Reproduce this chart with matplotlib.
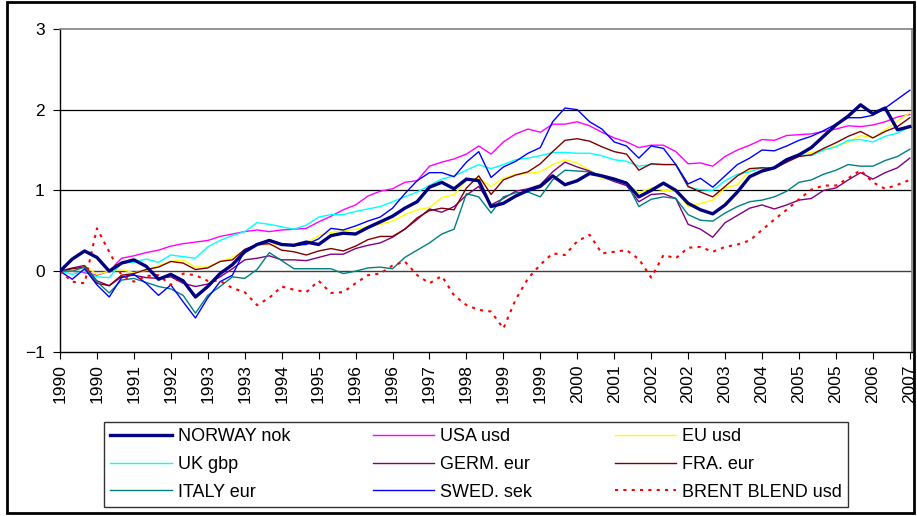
import matplotlib
matplotlib.use("Agg")
import matplotlib.pyplot as plt
from matplotlib.patches import Rectangle

plt.rcParams['font.family'] = ['Liberation Sans', 'DejaVu Sans']

# month index (0 = Jan 1990), one value per quarter
months = list(range(0, 208, 3))

norway = [0.00, 0.15, 0.25, 0.17, 0.00, 0.10, 0.14, 0.06, -0.10, -0.04,
          -0.12, -0.32, -0.19, -0.03, 0.08, 0.24, 0.33, 0.38, 0.33, 0.32,
          0.36, 0.33, 0.44, 0.47, 0.46, 0.54, 0.61, 0.68, 0.78, 0.86,
          1.04, 1.10, 1.02, 1.14, 1.12, 0.80, 0.84, 0.93, 1.00, 1.05,
          1.18, 1.07, 1.12, 1.21, 1.18, 1.14, 1.09, 0.92, 1.00, 1.09,
          1.00, 0.84, 0.76, 0.71, 0.82, 0.98, 1.17, 1.24, 1.28, 1.38,
          1.44, 1.53, 1.67, 1.81, 1.92, 2.06, 1.95, 2.02, 1.75, 1.79]
usa = [0.00, 0.00, -0.02, -0.05, 0.00, 0.16, 0.19, 0.23, 0.26, 0.31,
       0.34, 0.36, 0.38, 0.43, 0.46, 0.49, 0.51, 0.49, 0.51, 0.52,
       0.53, 0.61, 0.68, 0.76, 0.82, 0.93, 0.99, 1.02, 1.10, 1.12,
       1.30, 1.35, 1.39, 1.45, 1.55, 1.45, 1.60, 1.70, 1.76, 1.72,
       1.82, 1.82, 1.85, 1.80, 1.72, 1.65, 1.60, 1.53, 1.56, 1.56,
       1.48, 1.33, 1.34, 1.30, 1.42, 1.50, 1.56, 1.63, 1.62, 1.68,
       1.69, 1.70, 1.73, 1.76, 1.80, 1.79, 1.81, 1.85, 1.91, 1.94]
eu = [0.00, 0.00, 0.07, -0.04, 0.00, 0.02, -0.02, 0.01, 0.07, 0.12,
      0.14, 0.05, 0.05, 0.12, 0.17, 0.25, 0.32, 0.32, 0.33, 0.34,
      0.35, 0.44, 0.48, 0.50, 0.52, 0.55, 0.58, 0.62, 0.70, 0.76,
      0.79, 0.91, 0.95, 1.12, 1.15, 1.05, 1.15, 1.20, 1.21, 1.23,
      1.32, 1.38, 1.34, 1.25, 1.14, 1.13, 1.08, 0.97, 1.03, 1.00,
      1.00, 0.80, 0.84, 0.88, 1.03, 1.07, 1.25, 1.28, 1.28, 1.37,
      1.45, 1.47, 1.50, 1.55, 1.60, 1.68, 1.65, 1.75, 1.86, 1.96]
uk = [0.00, -0.04, 0.00, -0.07, -0.08, 0.10, 0.11, 0.15, 0.11, 0.20,
      0.18, 0.16, 0.30, 0.38, 0.44, 0.49, 0.60, 0.58, 0.55, 0.52,
      0.57, 0.67, 0.70, 0.70, 0.74, 0.77, 0.80, 0.86, 0.92, 0.98,
      1.06, 1.14, 1.18, 1.25, 1.32, 1.27, 1.32, 1.38, 1.40, 1.43,
      1.47, 1.47, 1.46, 1.46, 1.43, 1.38, 1.36, 1.30, 1.32, 1.32,
      1.32, 1.04, 1.01, 1.00, 1.12, 1.20, 1.23, 1.28, 1.28, 1.35,
      1.44, 1.43, 1.50, 1.54, 1.62, 1.63, 1.60, 1.67, 1.71, 1.79]
germ = [0.00, 0.04, 0.07, -0.12, -0.18, -0.07, -0.05, -0.08, -0.09, -0.07,
        -0.15, -0.19, -0.16, -0.07, 0.03, 0.14, 0.16, 0.19, 0.14, 0.14,
        0.13, 0.17, 0.21, 0.21, 0.28, 0.32, 0.35, 0.42, 0.52, 0.64,
        0.77, 0.73, 0.80, 0.94, 1.05, 0.82, 0.90, 0.99, 1.02, 1.07,
        1.23, 1.35, 1.29, 1.24, 1.17, 1.11, 1.06, 0.86, 0.95, 0.96,
        0.90, 0.58, 0.52, 0.42, 0.60, 0.69, 0.78, 0.82, 0.77, 0.82,
        0.88, 0.90, 1.00, 1.03, 1.13, 1.22, 1.14, 1.22, 1.28, 1.40]
fra = [0.00, 0.03, 0.05, -0.15, -0.18, -0.05, -0.03, 0.02, 0.05, 0.12,
       0.10, 0.02, 0.04, 0.12, 0.14, 0.27, 0.33, 0.34, 0.26, 0.24,
       0.20, 0.25, 0.28, 0.25, 0.31, 0.39, 0.43, 0.43, 0.52, 0.66,
       0.75, 0.78, 0.76, 1.03, 1.18, 0.95, 1.13, 1.19, 1.23, 1.33,
       1.48, 1.62, 1.64, 1.61, 1.54, 1.48, 1.45, 1.25, 1.33, 1.32,
       1.32, 1.05, 0.98, 0.92, 1.05, 1.18, 1.27, 1.28, 1.27, 1.35,
       1.42, 1.44, 1.52, 1.59, 1.67, 1.73, 1.65, 1.73, 1.79, 1.90]
italy = [0.00, 0.00, 0.05, -0.13, -0.27, -0.11, -0.09, -0.14, -0.19, -0.22,
         -0.30, -0.52, -0.30, -0.19, -0.07, -0.09, 0.02, 0.23, 0.13, 0.03,
         0.03, 0.03, 0.03, -0.03, 0.00, 0.04, 0.05, 0.03, 0.17, 0.26,
         0.35, 0.46, 0.52, 0.96, 0.92, 0.72, 0.92, 0.97, 0.98, 0.92,
         1.13, 1.25, 1.24, 1.23, 1.18, 1.12, 1.10, 0.80, 0.89, 0.92,
         0.90, 0.70, 0.63, 0.62, 0.72, 0.80, 0.86, 0.88, 0.92, 0.99,
         1.10, 1.13, 1.20, 1.25, 1.32, 1.30, 1.30, 1.37, 1.42, 1.51]
swed = [0.00, -0.10, 0.03, -0.17, -0.32, -0.08, -0.04, -0.15, -0.30, -0.17,
        -0.38, -0.58, -0.33, -0.13, -0.05, 0.26, 0.33, 0.39, 0.33, 0.32,
        0.33, 0.40, 0.53, 0.51, 0.56, 0.62, 0.67, 0.78, 0.96, 1.12,
        1.22, 1.22, 1.17, 1.35, 1.48, 1.16, 1.29, 1.36, 1.46, 1.53,
        1.85, 2.02, 2.00, 1.85, 1.76, 1.60, 1.55, 1.40, 1.55, 1.52,
        1.32, 1.08, 1.15, 1.04, 1.18, 1.32, 1.40, 1.50, 1.49, 1.55,
        1.62, 1.67, 1.74, 1.82, 1.90, 1.90, 1.93, 2.02, 2.13, 2.24]
brent = [0.00, -0.13, -0.15, 0.53, 0.24, -0.05, -0.13, -0.06, -0.05, -0.17,
         -0.03, -0.05, -0.12, -0.12, -0.21, -0.26, -0.42, -0.33, -0.19, -0.23,
         -0.26, -0.12, -0.27, -0.26, -0.15, -0.05, -0.03, 0.07, 0.12, -0.05,
         -0.15, -0.06, -0.30, -0.42, -0.48, -0.50, -0.71, -0.35, -0.09, 0.08,
         0.22, 0.20, 0.37, 0.45, 0.22, 0.24, 0.26, 0.15, -0.08, 0.20,
         0.16, 0.29, 0.30, 0.24, 0.30, 0.33, 0.38, 0.51, 0.64, 0.76,
         0.89, 1.01, 1.06, 1.06, 1.15, 1.25, 1.10, 1.02, 1.07, 1.13]

tick_months = list(range(0, 208, 9))
tick_labels = [str(1990 + m // 12) for m in tick_months]

fig = plt.figure(figsize=(9.17, 5.16), dpi=100)
ax = fig.add_axes([0.0654, 0.318, 0.929, 0.626])

# outer chart frame
fig.patches.append(Rectangle((0.008, 0.006), 0.989, 0.99, transform=fig.transFigure,
                             fill=False, edgecolor='black', linewidth=2))

ax.axhline(0, color='#404040', linewidth=1, zorder=1)
for y in (1, 2):
    ax.axhline(y, color='black', linewidth=0.9, zorder=1)

series = [
    ("NORWAY nok", norway, '#000080', 2.4, '-'),
    ("USA usd", usa, '#FF00FF', 1.0, '-'),
    ("EU usd", eu, '#FFFF00', 1.0, '-'),
    ("UK gbp", uk, '#00FFFF', 1.0, '-'),
    ("GERM. eur", germ, '#800080', 1.0, '-'),
    ("FRA. eur", fra, '#800000', 1.0, '-'),
    ("ITALY eur", italy, '#008080', 1.0, '-'),
    ("SWED. sek", swed, '#0000FF', 1.0, '-'),
    ("BRENT BLEND usd", brent, '#FF0000', 1.5, (0, (1.5, 2.5))),
]
handles = {}
for i, (name, vals, col, lw, ls) in enumerate(series):
    z = 5 if name.startswith("NORWAY") else 2 + i * 0.1
    h, = ax.plot(months, vals, color=col, linewidth=lw, linestyle=ls, label=name, zorder=z)
    handles[name] = h

ax.set_xlim(0, 207.5)
ax.set_ylim(-1, 3)
ax.set_yticks([-1, 0, 1, 2, 3])
ax.set_xticks(tick_months)
ax.set_xticklabels(tick_labels, rotation=90, fontsize=12.5)
ax.tick_params(axis='y', labelsize=12.5, length=5, direction='out', pad=6)
ax.tick_params(axis='x', length=5, direction='out', pad=4)

for s in ('top', 'right'):
    ax.spines[s].set_color('#808080')
    ax.spines[s].set_linewidth(1.2)
for s in ('left', 'bottom'):
    ax.spines[s].set_color('black')
    ax.spines[s].set_linewidth(1)

# legend is read row by row, matplotlib fills by column
order = ["NORWAY nok", "UK gbp", "ITALY eur",
         "USA usd", "GERM. eur", "SWED. sek",
         "EU usd", "FRA. eur", "BRENT BLEND usd"]
leg = fig.legend([handles[n] for n in order], order, ncol=3,
                 loc='lower left', bbox_to_anchor=(0.1134, 0.0174),
                 fontsize=13, handlelength=3.4, handletextpad=0.35,
                 columnspacing=4.55, labelspacing=0.6, borderpad=0.35,
                 borderaxespad=0, frameon=True, fancybox=False, edgecolor='black')
leg.get_frame().set_linewidth(1)

fig.savefig("out.png", dpi=100)
